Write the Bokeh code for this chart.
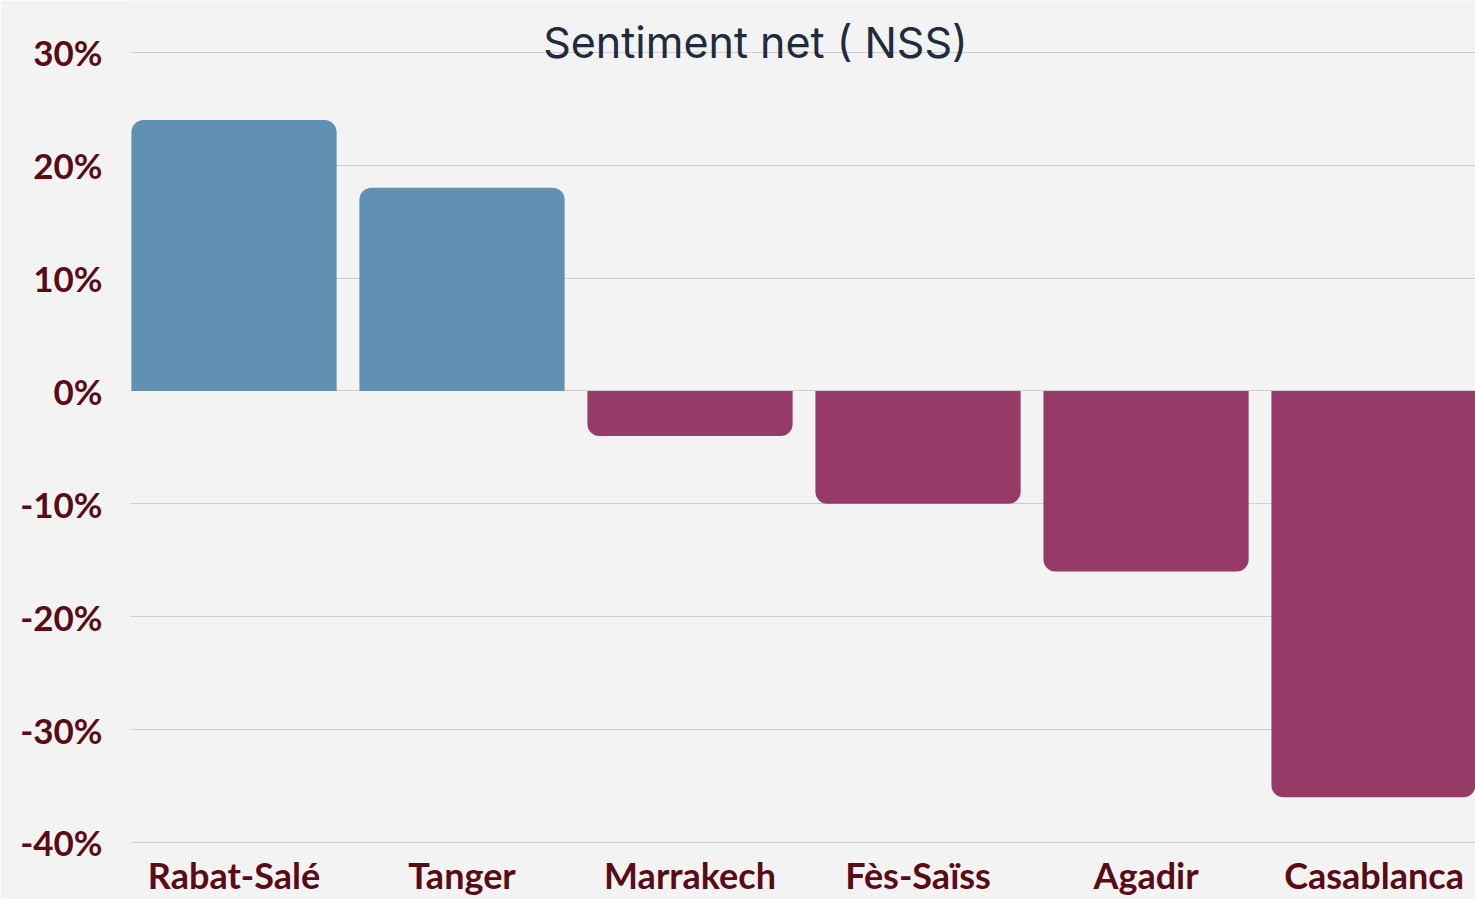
from bokeh.plotting import figure
from bokeh.models import Range1d, FixedTicker, PrintfTickFormatter, CustomJSTickFormatter, ColumnDataSource, Label
from bokeh.embed import file_html
from bokeh.resources import INLINE

categories = ["Rabat-Salé", "Tanger", "Marrakech", "Fès-Saïss", "Agadir", "Casablanca"]
values = [24, 18, -4, -10, -16, -36]
y_ticks = [-40, -30, -20, -10, 0, 10, 20, 30]
title_text = "Sentiment net ( NSS)"

BLUE = "#6090b2"
PURPLE = "#963a68"
LABEL = "#5a0b16"
BG = "#f3f3f3"

xs = [i + 0.5 for i in range(len(categories))]
pos = ColumnDataSource(dict(x=[x for x, v in zip(xs, values) if v >= 0],
                            top=[v for v in values if v >= 0]))
neg = ColumnDataSource(dict(x=[x for x, v in zip(xs, values) if v < 0],
                            top=[v for v in values if v < 0]))

p = figure(width=1475, height=899, output_backend="svg", toolbar_location=None,
           x_range=Range1d(0.046, 5.945), y_range=Range1d(-40.1, 34.6),
           background_fill_color=BG, border_fill_color=BG,
           min_border_left=130, min_border_right=0, min_border_top=0, min_border_bottom=0)
p.outline_line_color = None

p.vbar(x="x", top="top", bottom=0, width=0.9, source=pos, fill_color=BLUE, line_color=None,
       border_radius=(12, 12, 0, 0))
p.vbar(x="x", top=0, bottom="top", width=0.9, source=neg, fill_color=PURPLE, line_color=None,
       border_radius=(0, 0, 12, 12))

p.xgrid.grid_line_color = None
p.ygrid.grid_line_color = "#cfcfcf"
p.ygrid.grid_line_width = 1
p.ygrid.ticker = FixedTicker(ticks=y_ticks)

p.yaxis.ticker = FixedTicker(ticks=y_ticks)
p.yaxis.formatter = PrintfTickFormatter(format="%d%%")
p.xaxis.ticker = FixedTicker(ticks=xs)
p.xaxis.formatter = CustomJSTickFormatter(args=dict(names=categories),
                                          code="return names[Math.floor(tick)];")
for ax in (p.xaxis, p.yaxis):
    ax.axis_line_color = None
    ax.major_tick_line_color = None
    ax.minor_tick_line_color = None
    ax.major_label_text_color = LABEL
    ax.major_label_text_font = "Lato"
    ax.major_label_text_font_style = "bold"
p.yaxis.major_label_text_font_size = "35px"
p.xaxis.major_label_text_font_size = "36px"
p.yaxis.major_label_standoff = 22
p.xaxis.major_label_standoff = 3

p.add_layout(Label(x=2.787, y=30.88, text=title_text, text_align="center", text_baseline="middle",
                   text_font="Inter", text_font_size="43px", text_color="#202b3f"))

open("out.html", "w").write(file_html(p, INLINE))
